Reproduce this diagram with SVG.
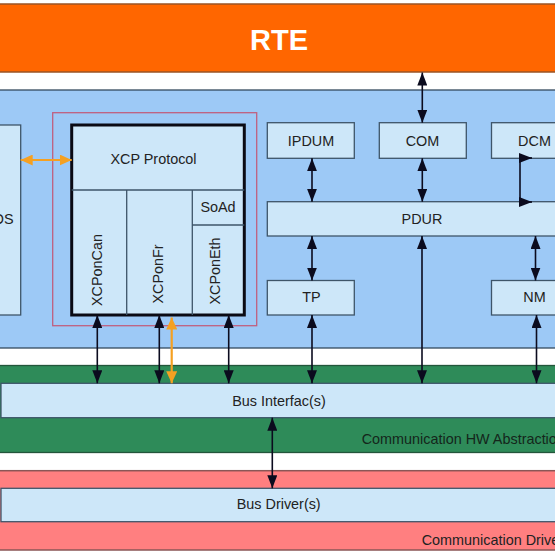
<svg xmlns="http://www.w3.org/2000/svg" width="555" height="555" viewBox="0 0 555 555">
<defs>
<style>
.rte{fill:#FF6600;stroke:#9A5426;stroke-width:1.5}
.blue{fill:#9DC9F6;stroke:#344A5E;stroke-width:1.3}
.box{fill:#CDE7F9;stroke:#3E5569;stroke-width:1.3}
.green{fill:#2E8B59;stroke:#23553B;stroke-width:1.3}
.pink{fill:#FF7F80;stroke:#8A5656;stroke-width:1.5}
.div{stroke:#3E5569;stroke-width:1.3;fill:none}
.t{font-family:"Liberation Sans",Arial,sans-serif;font-size:14.4px;fill:#222;text-anchor:middle}
.c{stroke:#0B0B1E;stroke-width:1.6;fill:none;marker-start:url(#ah);marker-end:url(#ah)}
.c1{stroke:#0B0B1E;stroke-width:1.6;fill:none}
.o{stroke:#F5A021;stroke-width:2.2;fill:none;marker-start:url(#oh);marker-end:url(#oh)}
</style>
<marker id="ah" markerUnits="userSpaceOnUse" markerWidth="14" markerHeight="10" refX="13" refY="5" orient="auto-start-reverse"><path d="M0,0 L13,5 L0,10 z" fill="#0B0B1E"/></marker>
<marker id="ahe" markerUnits="userSpaceOnUse" markerWidth="14" markerHeight="10" refX="13" refY="5" orient="auto"><path d="M0,0 L13,5 L0,10 z" fill="#0B0B1E"/></marker>
<marker id="oh" markerUnits="userSpaceOnUse" markerWidth="13" markerHeight="11" refX="12" refY="5.5" orient="auto-start-reverse"><path d="M0,0 L12,5.5 L0,11 z" fill="#F5A021"/></marker>
</defs>
<rect width="555" height="555" fill="#fff"/>

<g id="rte"><rect class="rte" x="-2" y="4" width="559" height="68"/><text x="279" y="50" font-family="'Liberation Sans',Arial,sans-serif" font-size="29" font-weight="bold" fill="#fff" text-anchor="middle">RTE</text></g>

<g id="services-layer"><rect class="blue" x="-2" y="90" width="559" height="258"/></g>

<g id="os"><rect class="box" x="-10" y="125" width="30.7" height="190"/><text class="t" x="13.5" y="223.5" style="text-anchor:end">OS</text></g>

<g id="xcp-frame"><rect x="52.7" y="112.7" width="204" height="213" fill="none" stroke="#C0607F" stroke-width="1.3"/></g>

<g id="xcp">
<rect x="71.7" y="125" width="172.6" height="190" fill="#CDE7F9" stroke="#0A0A14" stroke-width="3"/>
<path class="div" d="M71.7,190 H244.3 M126.7,190 V315 M192.3,190 V315 M192.3,225 H244.3"/>
<text class="t" x="153.5" y="164.4">XCP Protocol</text>
<text class="t" x="218" y="212.4">SoAd</text>
<text class="t" transform="translate(96.7,270) rotate(-90)" x="0" y="5.2">XCPonCan</text>
<text class="t" transform="translate(158,274) rotate(-90)" x="0" y="5.2">XCPonFr</text>
<text class="t" transform="translate(215,271) rotate(-90)" x="0" y="5.2">XCPonEth</text>
</g>

<g id="ipdum"><rect class="box" x="267.3" y="122.7" width="87" height="35.6"/><text class="t" x="311" y="145.5">IPDUM</text></g>
<g id="com"><rect class="box" x="379.3" y="122.7" width="87" height="35.6"/><text class="t" x="422.5" y="145.5">COM</text></g>
<g id="dcm"><rect class="box" x="491.5" y="122.7" width="100" height="35.6"/><text class="t" x="534.5" y="145.5">DCM</text></g>
<g id="pdur"><rect class="box" x="267.3" y="201.7" width="300" height="34.3"/><text class="t" x="422" y="223.6">PDUR</text></g>
<g id="tp"><rect class="box" x="267.3" y="280.5" width="87" height="34.5"/><text class="t" x="311.5" y="302.4">TP</text></g>
<g id="nm"><rect class="box" x="491.5" y="280.5" width="100" height="34.5"/><text class="t" x="534.5" y="302.4">NM</text></g>

<g id="hw-abstraction"><rect class="green" x="-2" y="365.5" width="559" height="87"/><text class="t" x="361.7" y="443.9" style="text-anchor:start;fill:#14261b">Communication HW Abstraction</text></g>
<g id="bus-interface"><rect class="box" x="1" y="383.3" width="600" height="34.4"/><text class="t" x="279" y="405.8">Bus Interfac(s)</text></g>

<g id="drivers"><rect class="pink" x="-2" y="470.7" width="559" height="79.3"/><text class="t" x="421.7" y="544.5" style="text-anchor:start">Communication Drivers</text></g>
<g id="bus-driver"><rect class="box" x="1" y="488.3" width="600" height="33.4"/><text class="t" x="278.7" y="509.4">Bus Driver(s)</text></g>

<g id="connectors">
<path class="c" d="M422.3,72.5 V122.7"/>
<path class="c" d="M312,158.3 V201.7"/>
<path class="c" d="M422.3,158.3 V201.7"/>
<path class="c1" d="M520,155 V205"/>
<path class="c1" d="M520,158 H532" marker-end="url(#ahe)"/>
<path class="c1" d="M520,202 H532" marker-end="url(#ahe)"/>
<path class="c" d="M312,236 V280.5"/>
<path class="c" d="M535.5,236 V280.5"/>
<path class="c" d="M312,315 V383.3"/>
<path class="c" d="M422,236 V383.3"/>
<path class="c" d="M536.5,315 V383.3"/>
<path class="c" d="M97.3,315 V383.3"/>
<path class="c" d="M159.3,315 V383.3"/>
<path class="c" d="M228.7,315 V383.3"/>
<path class="o" d="M171.7,317.5 V383.3"/>
<path class="o" d="M20.7,160 H71.7"/>
<path class="c" d="M272.3,417.7 V488.3"/>
</g>
</svg>
